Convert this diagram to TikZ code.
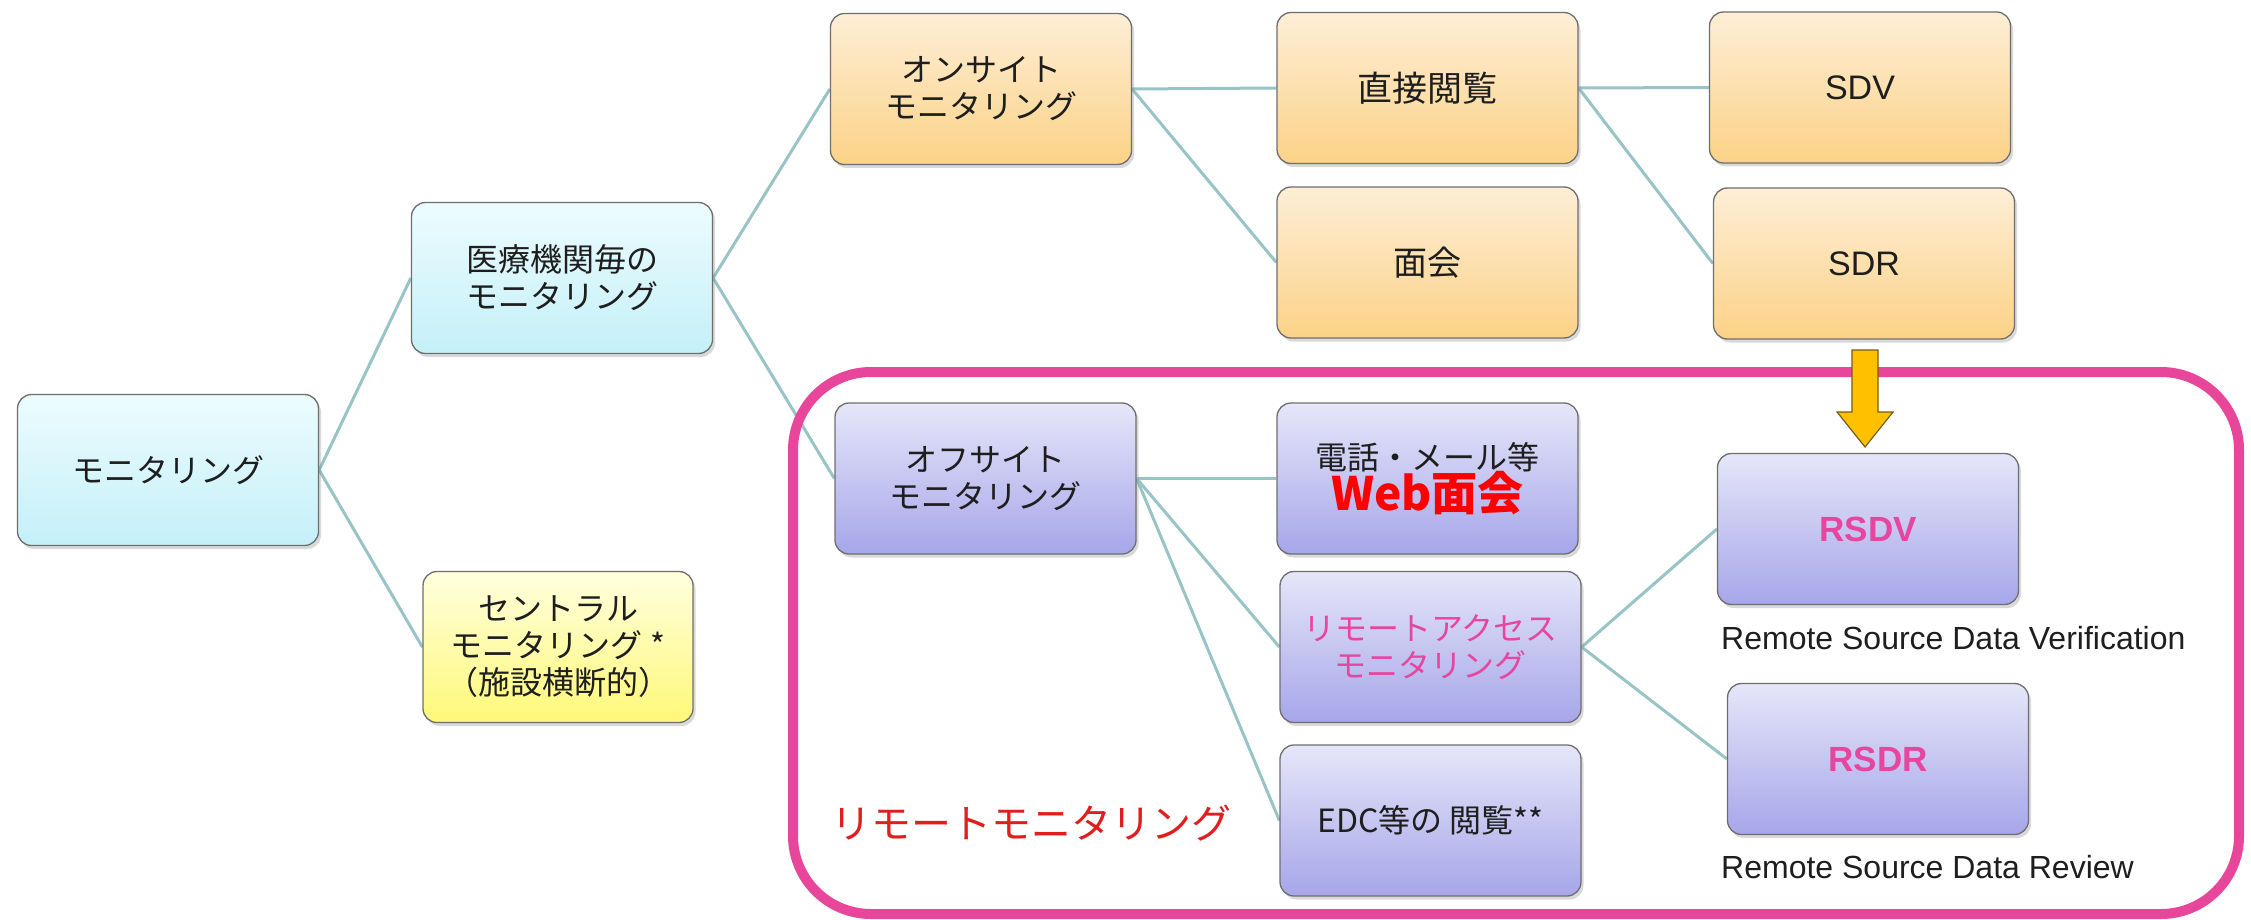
\documentclass[tikz,border=0pt]{standalone}
\usepackage{fontspec}
\setmainfont{Liberation Sans}
\newfontfamily\jp{Noto Sans CJK JP}
\usetikzlibrary{shadows,backgrounds}
\definecolor{cyanTop}{RGB}{236,252,254}
\definecolor{cyanBot}{RGB}{196,240,248}
\definecolor{yelTop}{RGB}{255,255,222}
\definecolor{yelBot}{RGB}{255,248,120}
\definecolor{oraTop}{RGB}{253,238,214}
\definecolor{oraBot}{RGB}{252,210,135}
\definecolor{purTop}{RGB}{230,230,249}
\definecolor{purBot}{RGB}{166,166,234}
\definecolor{boxline}{RGB}{110,110,110}
\definecolor{pinkf}{RGB}{232,70,155}
\definecolor{pinktxt}{RGB}{230,70,160}
\definecolor{webred}{RGB}{255,0,0}
\definecolor{remred}{RGB}{225,30,30}
\definecolor{conncol}{RGB}{152,196,200}
\definecolor{arrfill}{RGB}{255,192,0}
\definecolor{arrline}{RGB}{120,90,20}
\definecolor{txt}{RGB}{30,30,30}
\newcommand\jpm{\jp\fontsize{32}{37}\selectfont}
\tikzset{
  box/.style={rectangle, rounded corners=14pt, draw=boxline, line width=1.3pt,
    align=center, inner sep=0pt, minimum width=301pt, minimum height=151pt,
    text=txt, font=\jpm,
    drop shadow={shadow xshift=2.5pt, shadow yshift=-3.5pt, opacity=0.3}},
  cyanbox/.style={box, top color=cyanTop, bottom color=cyanBot},
  yelbox/.style={box, top color=yelTop, bottom color=yelBot},
  orabox/.style={box, top color=oraTop, bottom color=oraBot},
  purbox/.style={box, top color=purTop, bottom color=purBot},
  conn/.style={draw=conncol, line width=3pt},
  caption/.style={anchor=west, inner sep=0pt, text=txt, font=\fontsize{32}{36}\selectfont}
}
\begin{document}
\begin{tikzpicture}[x=1pt,y=-1pt]
\useasboundingbox (0,0) rectangle (2251,920);
% boxes
\node[cyanbox] (mon) at (168,470) {モニタリング};
\node[cyanbox] (iryo) at (562,278) {医療機関毎の\\モニタリング};
\node[yelbox, minimum width=270pt] (central) at (558,647) {セントラル\\モニタリング *\\（施設横断的）};
\node[orabox] (onsite) at (981,89) {オンサイト\\モニタリング};
\node[purbox] (offsite) at (985.5,478.5) {オフサイト\\モニタリング};
\node[orabox] (direct) at (1427.5,88) {{\jp\fontsize{35}{40}\selectfont 直接閲覧}};
\node[orabox] (menkai) at (1427.5,262.5) {{\jp\fontsize{34}{40}\selectfont 面会}};
\node[purbox] (denwa) at (1427.5,478.5) {電話・メール等\\[-2pt]{\color{webred}\bfseries\fontsize{46}{50}\selectfont Web{\jp 面会}}};
\node[purbox, text=pinktxt] (raccess) at (1430.5,647) {リモートアクセス\\モニタリング};
\node[purbox] (edc) at (1430.5,820.5) {EDC等の 閲覧**};
\node[orabox, font=\fontsize{34}{40}\selectfont] (sdv) at (1860,87.5) {SDV};
\node[orabox, font=\fontsize{34}{40}\selectfont] (sdr) at (1864,263.5) {SDR};
\node[purbox, text=pinktxt, font=\bfseries\fontsize{35}{40}\selectfont] (rsdv) at (1868,529) {RSDV};
\node[purbox, text=pinktxt, font=\bfseries\fontsize{35}{40}\selectfont] (rsdr) at (1878,759) {RSDR};
% captions
\node[caption] (capv) at (1721,638) {Remote Source Data Verification};
\node[caption] (capr) at (1721,867) {Remote Source Data Review};
% remote label
\node[text=remred, font=\jp\fontsize{40}{46}\selectfont, inner sep=0pt] (rlabel) at (1031,823) {リモートモニタリング};
% background: connectors and frame
\begin{scope}[on background layer]
\draw[conn] (mon.east) -- (iryo.west);
\draw[conn] (mon.east) -- (central.west);
\draw[conn] (iryo.east) -- (onsite.west);
\draw[conn] (iryo.east) -- (offsite.west);
\draw[conn] (onsite.east) -- (direct.west);
\draw[conn] (onsite.east) -- (menkai.west);
\draw[conn] (direct.east) -- (sdv.west);
\draw[conn] (direct.east) -- (sdr.west);
\draw[conn] (offsite.east) -- (denwa.west);
\draw[conn] (offsite.east) -- (raccess.west);
\draw[conn] (offsite.east) -- (edc.west);
\draw[conn] (raccess.east) -- (rsdv.west);
\draw[conn] (raccess.east) -- (rsdr.west);
\node[draw=pinkf, line width=10pt, rounded corners=78pt, minimum width=1446pt,
      minimum height=542pt, inner sep=0pt] (remote) at (1516,643) {};
\end{scope}
% block arrow SDR -> RSDV
\draw[fill=arrfill, draw=arrline, line width=1.2pt, line join=miter]
  (1852,350) -- (1878,350) -- (1878,412) -- (1893,412) -- (1865,447)
  -- (1837,412) -- (1852,412) -- cycle;
\end{tikzpicture}
\end{document}
